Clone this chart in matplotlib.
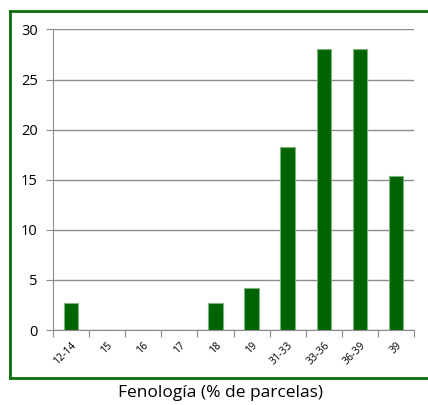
import matplotlib
matplotlib.use("Agg")
import matplotlib.pyplot as plt
from matplotlib.lines import Line2D
import numpy as np

categories = ["12-14", "15", "16", "17", "18", "19", "31-33", "33-36", "36-39", "39"]
values = [2.7, 0, 0, 0, 2.7, 4.2, 18.3, 28.1, 28.1, 15.4]

plt.rcParams["font.family"] = ["Open Sans", "DejaVu Sans"]

fig = plt.figure(figsize=(4.28, 4.05), dpi=100)
ax = fig.add_axes([53 / 428, 1 - 330 / 405, (414 - 53) / 428, (330 - 29.5) / 405])

x = np.arange(len(categories))
ax.bar(x, values, width=0.4, color="#006400", edgecolor="#7fb27f", linewidth=0.8, zorder=3)

ax.set_xlim(-0.5, len(categories) - 0.5)
ax.set_ylim(0, 30)
ax.set_yticks(np.arange(0, 31, 5))
ax.yaxis.grid(True, color="#8c8c8c", linewidth=1.0, zorder=0)
ax.tick_params(axis="y", length=5, color="#8c8c8c", labelsize=10.5, pad=6)

# category ticks between bars, labels at centres
ax.set_xticks(np.arange(-0.5, len(categories), 1.0))
ax.set_xticklabels([])
ax.set_xticks(x, minor=True)
ax.set_xticklabels(categories, minor=True, rotation=45, ha="right", va="top",
                   rotation_mode="anchor", fontsize=7.5)
ax.tick_params(axis="x", which="major", length=5, color="#8c8c8c")
ax.tick_params(axis="x", which="minor", length=0, pad=7)

for side in ["top", "right"]:
    ax.spines[side].set_visible(False)
for side in ["left", "bottom"]:
    ax.spines[side].set_color("#8c8c8c")

# green frame around chart (no right side)
g = "#0a6e0a"
fig.add_artist(Line2D([10 / 428, 10 / 428], [1 - 11 / 405, 1 - 378 / 405], color=g, linewidth=2, transform=fig.transFigure))
fig.add_artist(Line2D([10 / 428, 1.0], [1 - 11 / 405, 1 - 11 / 405], color=g, linewidth=2, transform=fig.transFigure))
fig.add_artist(Line2D([10 / 428, 1.0], [1 - 378 / 405, 1 - 378 / 405], color=g, linewidth=2, transform=fig.transFigure))

fig.text(221 / 428, 1 - 393 / 405, "Fenología (% de parcelas)", ha="center", va="center", fontsize=12.5)

fig.savefig("out.png", dpi=100)
